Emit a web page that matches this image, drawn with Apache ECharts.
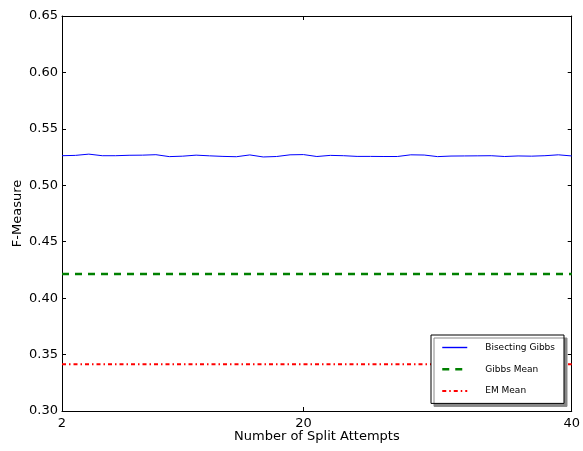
<!DOCTYPE html>
<html>
<head>
<meta charset="utf-8">
<script src="https://cdn.jsdelivr.net/npm/echarts@6/dist/echarts.min.js"></script>
<style>html,body{margin:0;padding:0;background:#fff;}#c{width:583px;height:451px;}</style>
</head>
<body>
<div id="c"></div>
<script>
const splitAttempts = [2,3,4,5,6,7,8,9,10,11,12,13,14,15,16,17,18,19,20,21,22,23,24,25,26,27,28,29,30,31,32,33,34,35,36,37,38,39,40];
const bisectingGibbs = [0.5262,0.5265,0.5276,0.5262,0.5262,0.5266,0.5267,0.5271,0.5254,0.5258,0.5267,0.5261,0.5256,0.5253,0.5269,0.5251,0.5255,0.5270,0.5272,0.5255,0.5265,0.5262,0.5256,0.5256,0.5255,0.5255,0.5270,0.5268,0.5254,0.5259,0.5260,0.5261,0.5262,0.5255,0.5260,0.5258,0.5262,0.5270,0.5260];
const gibbsMean = 0.4215;
const emMean = 0.3414;
const xTicks = [2, 20, 40];
const yMin = 0.30, yMax = 0.65, yStep = 0.05;

const chart = echarts.init(document.getElementById('c'));
const font = 'DejaVu Sans';
const blueStyle = {color: '#0000ff', width: 1, type: 'solid'};
const greenStyle = {color: '#008000', width: 2.5, type: [7, 6]};
const redStyle = {color: '#ff0000', width: 2, type: [4, 3, 1.5, 3]};
chart.setOption({
  animation: false,
  backgroundColor: '#fff',
  grid: {left: 62, right: 11, top: 16, bottom: 40},
  xAxis: [{
    type: 'value', min: 2, max: 40, position: 'bottom',
    name: 'Number of Split Attempts', nameLocation: 'middle', nameGap: 19, nameMoveOverlap: false,
    nameTextStyle: {fontFamily: font, fontSize: 13, color: '#000'},
    axisLine: {lineStyle: {color: '#000', width: 1}},
    axisTick: {inside: true, length: 4, customValues: xTicks, lineStyle: {color: '#000'}},
    axisLabel: {customValues: xTicks, fontFamily: font, fontSize: 13, color: '#000', margin: 6},
    splitLine: {show: false}
  }, {
    type: 'value', min: 2, max: 40, position: 'top',
    axisLine: {lineStyle: {color: '#000', width: 1}},
    axisTick: {inside: true, length: 4, customValues: xTicks, lineStyle: {color: '#000'}},
    axisLabel: {show: false},
    splitLine: {show: false}
  }],
  yAxis: [{
    type: 'value', min: yMin, max: yMax, interval: yStep, position: 'left',
    name: 'F-Measure', nameLocation: 'middle', nameGap: 38, nameMoveOverlap: false,
    nameTextStyle: {fontFamily: font, fontSize: 13, color: '#000'},
    axisLine: {show: true, lineStyle: {color: '#000', width: 1}},
    axisTick: {show: true, inside: true, length: 4, lineStyle: {color: '#000'}},
    axisLabel: {fontFamily: font, fontSize: 13, color: '#000', margin: 4, formatter: v => v.toFixed(2)},
    splitLine: {show: false}
  }, {
    type: 'value', min: yMin, max: yMax, interval: yStep, position: 'right',
    axisLine: {show: true, lineStyle: {color: '#000', width: 1}},
    axisTick: {show: true, inside: true, length: 4, lineStyle: {color: '#000'}},
    axisLabel: {show: false},
    splitLine: {show: false}
  }],
  legend: {
    orient: 'vertical', left: 431, top: 335,
    padding: [8, 9, 8, 10], itemGap: 12.7, itemWidth: 25, itemHeight: 10,
    backgroundColor: '#fff', borderColor: '#000', borderWidth: 1, borderRadius: 0,
    shadowColor: '#888', shadowBlur: 0, shadowOffsetX: 3, shadowOffsetY: 3,
    itemStyle: {opacity: 0},
    lineStyle: {color: 'inherit', width: 'inherit', type: 'inherit'},
    textStyle: {fontFamily: font, fontSize: 9, color: '#000', padding: [0, 0, 0, 13]},
    data: [{name: 'Bisecting Gibbs', lineStyle: {width: 1.4}}, 'Gibbs Mean', 'EM Mean']
  },
  series: [{
    name: 'Bisecting Gibbs', type: 'line', symbol: 'none',
    data: splitAttempts.map((x, i) => [x, bisectingGibbs[i]]),
    lineStyle: blueStyle, itemStyle: {color: '#0000ff'}
  }, {
    name: 'Gibbs Mean', type: 'line', symbol: 'none',
    data: [[splitAttempts[0], gibbsMean], [splitAttempts[splitAttempts.length - 1], gibbsMean]],
    lineStyle: greenStyle, itemStyle: {color: '#008000'}
  }, {
    name: 'EM Mean', type: 'line', symbol: 'none',
    data: [[splitAttempts[0], emMean], [splitAttempts[splitAttempts.length - 1], emMean]],
    lineStyle: redStyle, itemStyle: {color: '#ff0000'}
  }]
});
</script>
</body>
</html>
